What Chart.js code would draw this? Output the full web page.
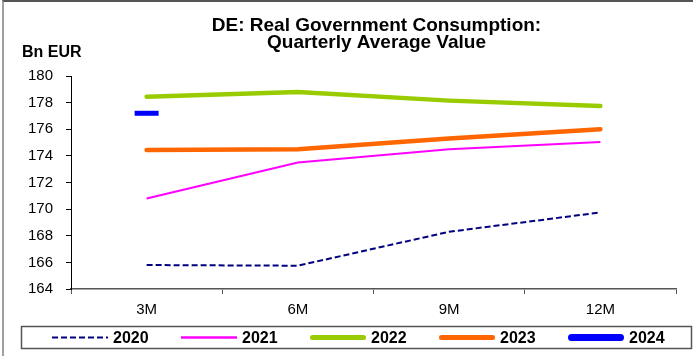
<!DOCTYPE html>
<html>
<head>
<meta charset="utf-8">
<script src="https://cdn.jsdelivr.net/npm/chart.js@4.4.0/dist/chart.umd.min.js"></script>
<style>
  html, body { margin: 0; padding: 0; background: #fff; overflow: hidden; }
  #wrap { position: relative; width: 693px; height: 356px; }
  #frame { position: absolute; left: 2px; top: 0; width: 740px; height: 420px; border-left: 2px solid #a0a0a0; border-top: 2px solid #555; box-sizing: border-box; pointer-events: none; }
  canvas { position: absolute; left: 0; top: 0; }
</style>
</head>
<body>
<div id="wrap">
  <canvas id="chart" width="693" height="356"></canvas>
  <div id="frame"></div>
</div>
<script>
// chart data
const periods = ["3M", "6M", "9M", "12M"];
const years = ["2020", "2021", "2022", "2023", "2024"];
const values2020 = [165.8, 165.75, 168.3, 169.75];
const values2021 = [170.8, 173.5, 174.5, 175.05];
const values2022 = [178.45, 178.8, 178.15, 177.75];
const values2023 = [174.45, 174.5, 175.3, 176.0];
const values2024 = [177.2, null, null, null];
const yTicks = [164, 166, 168, 170, 172, 174, 176, 178, 180];

const titleLines = ["DE: Real Government Consumption:", "Quarterly Average Value"];
const unitLabel = "Bn EUR";

const FONT = "'Liberation Sans', Arial, sans-serif";

// title and unit label, centred on the plot area
const titlePlugin = {
  id: "titleText",
  afterDraw(chart) {
    const { ctx, chartArea } = chart;
    const cx = (chartArea.left + chartArea.right) / 2 + 3;
    ctx.save();
    ctx.fillStyle = "#000";
    ctx.font = "bold 19px " + FONT;
    ctx.textAlign = "center";
    ctx.textBaseline = "alphabetic";
    ctx.fillText(titleLines[0], cx, 31);
    ctx.fillText(titleLines[1], cx, 48);
    ctx.font = "bold 16px " + FONT;
    ctx.textAlign = "left";
    ctx.fillText(unitLabel, 22, 57);
    ctx.restore();
  },
};

// boxed legend along the bottom
const legendPlugin = {
  id: "boxLegend",
  afterDraw(chart) {
    const { ctx } = chart;
    ctx.save();
    ctx.strokeStyle = "#555";
    ctx.lineWidth = 1.5;
    ctx.strokeRect(21.5, 326.5, 670, 22);
    ctx.font = "bold 16px " + FONT;
    ctx.textBaseline = "middle";
    ctx.textAlign = "left";
    chart.data.datasets.forEach((ds, i) => {
      const x0 = 52 + i * 129;
      const y = 337.5;
      ctx.beginPath();
      ctx.strokeStyle = ds.borderColor;
      ctx.lineWidth = ds.legendWidth;
      ctx.lineCap = ds.borderCapStyle || "butt";
      ctx.setLineDash(ds.borderDash || []);
      const pad = ctx.lineCap === "round" ? ds.legendWidth / 2 : 0;
      ctx.moveTo(x0 + pad, y);
      ctx.lineTo(x0 + 56 - pad, y);
      ctx.stroke();
      ctx.setLineDash([]);
      ctx.fillStyle = "#000";
      ctx.fillText(ds.label, x0 + 61, y + 1);
    });
    ctx.restore();
  },
};

const ctx = document.getElementById("chart").getContext("2d");
new Chart(ctx, {
  type: "line",
  data: {
    labels: periods,
    datasets: [
      {
        label: years[0],
        data: values2020,
        borderColor: "#000080",
        borderWidth: 2,
        borderDash: [6, 3],
        legendWidth: 2,
        pointRadius: 0,
      },
      {
        label: years[1],
        data: values2021,
        borderColor: "#ff00ff",
        borderWidth: 2,
        legendWidth: 2.5,
        pointRadius: 0,
      },
      {
        label: years[2],
        data: values2022,
        borderColor: "#99cc00",
        borderWidth: 4.5,
        borderCapStyle: "round",
        legendWidth: 5,
        pointRadius: 0,
      },
      {
        label: years[3],
        data: values2023,
        borderColor: "#ff6600",
        borderWidth: 4.5,
        borderCapStyle: "round",
        legendWidth: 5,
        pointRadius: 0,
      },
      {
        label: years[4],
        data: values2024,
        borderColor: "#0000ff",
        borderWidth: 6,
        borderCapStyle: "round",
        legendWidth: 7,
        showLine: false,
        pointStyle: "line",
        pointRadius: 12,
        pointBorderWidth: 5,
        pointBorderColor: "#0000ff",
      },
    ],
  },
  options: {
    responsive: false,
    animation: false,
    layout: {
      padding: { top: 76, left: 0, right: 16, bottom: 37 },
    },
    plugins: {
      legend: { display: false },
      title: { display: false },
      tooltip: { enabled: false },
    },
    scales: {
      x: {
        offset: true,
        afterFit(scale) {
          scale.height = 30;
        },
        grid: {
          offset: true,
          drawOnChartArea: false,
          tickLength: 5,
          color: "#555",
        },
        border: { color: "#555", width: 1.5 },
        ticks: {
          color: "#000",
          padding: 7,
          font: { family: FONT, size: 15 },
        },
      },
      y: {
        min: yTicks[0],
        max: yTicks[yTicks.length - 1],
        afterFit(scale) {
          scale.width = 71;
        },
        afterBuildTicks(scale) {
          scale.ticks = yTicks.map((v) => ({ value: v }));
        },
        grid: {
          drawOnChartArea: false,
          tickLength: 5,
          color: "#000",
        },
        border: { color: "#000", width: 1 },
        ticks: {
          color: "#000",
          padding: 13,
          font: { family: FONT, size: 15 },
        },
      },
    },
  },
  plugins: [titlePlugin, legendPlugin],
});
</script>
</body>
</html>
